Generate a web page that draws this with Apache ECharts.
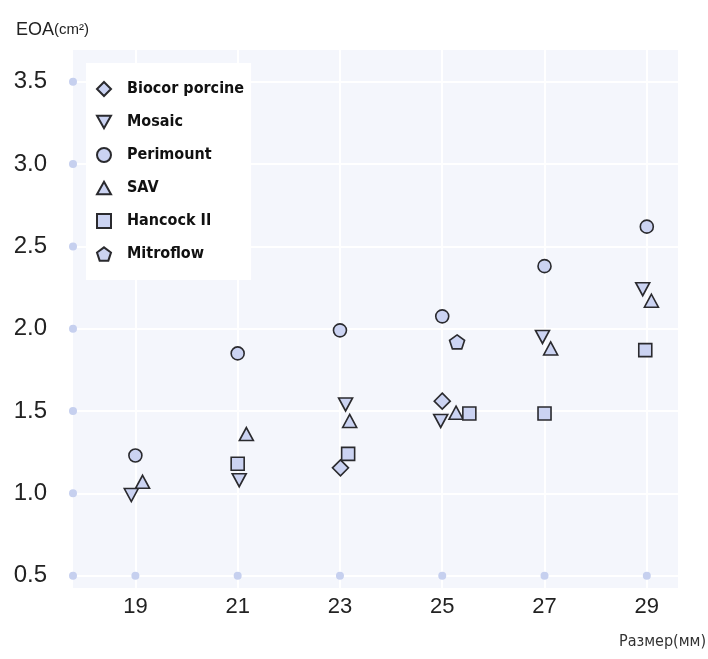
<!DOCTYPE html>
<html><head><meta charset="utf-8">
<script src="https://cdn.jsdelivr.net/npm/echarts@6/dist/echarts.min.js"></script>
<style>html,body{margin:0;padding:0;background:#fff}#c{width:708px;height:659px}</style>
</head><body><div id="c"></div>
<script>
const sizes = [19, 21, 23, 25, 27, 29];
const yTicks = [0.5, 1.0, 1.5, 2.0, 2.5, 3.0, 3.5];
const seriesNames = ['Biocor porcine', 'Mosaic', 'Perimount', 'SAV', 'Hancock II', 'Mitroflow'];
const biocor = [[23.01, 1.155], [25.0, 1.56]];
const mosaic = [[18.92, 0.99], [21.03, 1.08], [23.11, 1.54], [24.97, 1.44], [26.96, 1.95], [28.92, 2.24]];
const perimount = [[19.0, 1.23], [21.0, 1.85], [23.0, 1.99], [25.0, 2.075], [27.0, 2.38], [29.0, 2.62]];
const sav = [[19.14, 1.07], [21.17, 1.36], [23.19, 1.44], [25.27, 1.49], [27.12, 1.88], [29.09, 2.17]];
const hancock = [[21.0, 1.18], [23.16, 1.24], [25.53, 1.485], [27.0, 1.485], [28.97, 1.87]];
const mitroflow = [[25.29, 1.92]];

const X_MIN = 17.78, X_MAX = 29.61, Y_MIN = 0.425, Y_MAX = 3.693;
const NARROW = "'Liberation Sans Narrow', 'DejaVu Sans Condensed', 'Roboto Condensed', 'Noto Sans', sans-serif";

const symbols = {
  diamond: 'path://M5,0 L10,5 L5,10 L0,5 Z',
  down: 'path://M0,0 L10,0 L5,9 Z',
  circle: 'circle',
  up: 'path://M5,0 L10,9 L0,9 Z',
  rect: 'rect',
  pentagon: 'path://M5,0 L10,3.7 L8.1,9.5 L1.9,9.5 L0,3.7 Z'
};
const fill = '#cbd3f2';
const itemStyle = { color: fill, borderColor: '#2a2a2e', borderWidth: 1.6, opacity: 1 };
function mk(name, data, symbol, size) {
  return { name, type: 'scatter', data, symbol, symbolSize: size, itemStyle, z: 5 };
}
const axisDots = yTicks.map(v => [X_MIN, v]).concat(sizes.map(s => [s, yTicks[0]]));

const chart = echarts.init(document.getElementById('c'));
chart.setOption({
  animation: false,
  grid: { left: 73, right: 30, top: 50, bottom: 71, show: true, backgroundColor: '#f4f6fc', borderWidth: 0 },
  title: {
    text: '{a|EOA}{b|(cm²)}', left: 11, top: 16,
    textStyle: { rich: { a: { fontFamily: 'Liberation Sans', fontWeight: 'normal', fontSize: 18, color: '#222' }, b: { fontFamily: 'Liberation Sans', fontWeight: 'normal', fontSize: 15, color: '#222' } } }
  },
  graphic: [{ type: 'text', right: 2, top: 634, style: { text: 'Размер(мм)', fontFamily: NARROW, fontSize: 16, fill: '#333' } }],
  legend: {
    orient: 'vertical', left: 86, top: 63, backgroundColor: '#fff',
    padding: [18, 7, 18, 10], itemGap: 17, itemWidth: 14, itemHeight: 14,
    data: seriesNames,
    textStyle: { fontFamily: NARROW, fontWeight: 'bold', fontSize: 16, color: '#111', padding: [0, 0, 0, 11] }
  },
  xAxis: {
    type: 'value', min: X_MIN, max: X_MAX,
    axisLine: { show: false }, axisTick: { show: false, customValues: sizes },
    axisLabel: { customValues: sizes, fontFamily: 'Liberation Sans', fontSize: 22, color: '#222', margin: 8 },
    splitLine: { show: true, lineStyle: { color: '#fff', width: 2 } }
  },
  yAxis: {
    type: 'value', min: Y_MIN, max: Y_MAX,
    axisLine: { show: false }, axisTick: { show: false, customValues: yTicks },
    axisLabel: { customValues: yTicks, fontFamily: 'Liberation Sans', fontSize: 24, color: '#222', margin: 26, formatter: v => v.toFixed(1) },
    splitLine: { show: true, lineStyle: { color: '#fff', width: 2 } }
  },
  series: [
    { type: 'scatter', data: axisDots, symbol: 'circle', symbolSize: 8, itemStyle: { color: '#c6d0ef', opacity: 1 }, silent: true, z: 2 },
    mk('Biocor porcine', biocor, symbols.diamond, [16, 16]),
    mk('Mosaic', mosaic, symbols.down, [14, 13]),
    mk('Perimount', perimount, symbols.circle, 13),
    mk('SAV', sav, symbols.up, [14, 13]),
    mk('Hancock II', hancock, symbols.rect, 13),
    mk('Mitroflow', mitroflow, symbols.pentagon, [15, 14])
  ]
});
</script></body></html>
